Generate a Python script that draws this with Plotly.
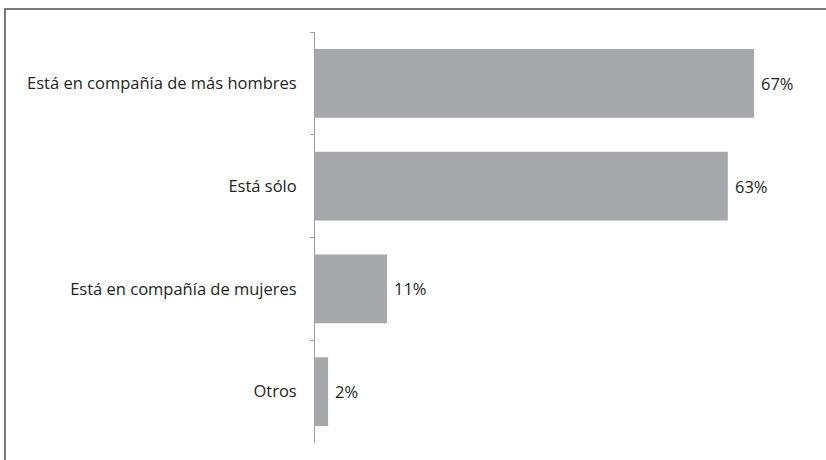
import plotly.graph_objects as go

categorias = [
    "Está en compañía de más hombres",
    "Está sólo",
    "Está en compañía de mujeres",
    "Otros",
]
porcentajes = [67, 63, 11, 2]
etiquetas = [f"{v}%" for v in porcentajes]

W, H = 826, 460
ML, MR, MT, MB = 315, 11, 32, 17
FUENTE = "Open Sans"
TINTA = "#231f20"
TAM = 16.5

fig = go.Figure(
    go.Bar(
        x=porcentajes,
        y=categorias,
        orientation="h",
        marker=dict(color="#a7a8ab", line=dict(width=0)),
        width=0.67,
        hoverinfo="x+y",
    )
)

# value labels just past the end of each bar
for cat, val, txt in zip(categorias, porcentajes, etiquetas):
    fig.add_annotation(
        x=val,
        y=cat,
        xref="x",
        yref="y",
        text=txt,
        showarrow=False,
        xanchor="left",
        yanchor="middle",
        xshift=5,
        font=dict(family=FUENTE, size=TAM, color=TINTA),
    )

fig.update_layout(
    width=W,
    height=H,
    margin=dict(l=ML, r=MR, t=MT, b=MB, pad=0),
    paper_bgcolor="white",
    plot_bgcolor="white",
    font=dict(family=FUENTE, size=TAM, color=TINTA),
    showlegend=False,
    xaxis=dict(
        range=[0, 76.3],
        visible=False,
    ),
    yaxis=dict(
        autorange="reversed",
        showline=True,
        linecolor="#9d9fa2",
        linewidth=1,
        ticks="outside",
        tickson="boundaries",
        ticklen=4,
        tickcolor="#9d9fa2",
        tickwidth=1,
        ticklabelstandoff=14,
        showgrid=False,
        zeroline=False,
    ),
)

# frame around the figure (left and top edges fall inside the page)
pw = W - ML - MR
ph = H - MT - MB
fig.add_shape(
    type="rect",
    xref="paper",
    yref="paper",
    x0=(5 - ML) / pw,
    x1=(W + 20 - ML) / pw,
    y0=(H - MB - (H + 20)) / ph,
    y1=(H - MB - 9) / ph,
    line=dict(color="#4d4d4f", width=1.5),
    layer="above",
)

fig.write_html("out.html")
